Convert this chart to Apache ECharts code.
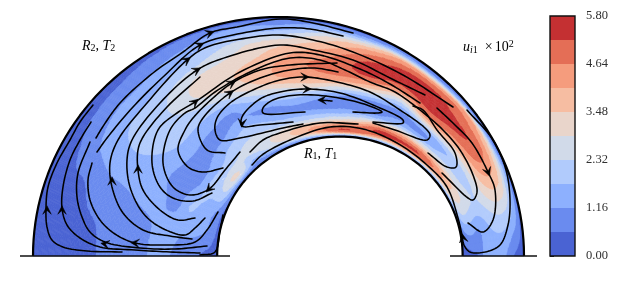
<!DOCTYPE html>
<html><head><meta charset="utf-8">
<style>html,body{margin:0;padding:0;background:#fff}#c{width:619px;height:283px}</style>
<script src="https://cdn.jsdelivr.net/npm/echarts@6/dist/echarts.min.js"></script>
</head><body><div id="c"></div>
<script>
// Filled-contour levels and colours
const levels = [0,0.58,1.16,1.74,2.32,2.9,3.48,4.06,4.64,5.22,5.8];
const bandColors = ['#4a63d3','#6a8bef','#8db0fe','#b1cbfc','#d1dae9','#e9d5cb','#f6bda2','#f59c7d','#e46e56','#c43032'];
const tickValues = [0,1.16,2.32,3.48,4.64,5.8];
// Field sampled on (angle, fraction of gap) between the inner and the outer wall
const angleDeg = [0,10,20,30,40,50,60,70,80,90,100,110,120,130,140,150,160,170,180];
const gapFrac = [0,.05,.1,.15,.2,.25,.3,.35,.4,.5,.6,.7,.8,.85,.9,.95,1];
const field = [
[.3,.35,.4,.45,.5,.55,.9,1.2,1.3,1.4,1.35,1.2,.8,.55,.45,.35,.3],
[.4,.9,1.2,1.3,1.3,1.2,1.15,1.3,1.5,1.8,2.0,2.05,1.9,1.7,1.4,1.0,.35],
[.5,1.9,2.5,2.6,2.5,2.4,2.3,2.3,2.35,2.8,3.3,3.6,3.5,3.1,2.3,1.5,.35],
[.5,2.9,3.4,3.4,2.8,2.4,2.2,2.0,2.3,3.4,4.5,4.9,4.6,4.0,3.3,1.6,.35],
[.5,3.3,4.4,3.9,3.0,2.3,1.9,1.7,2.2,3.8,5.0,5.4,4.9,4.7,4.2,1.8,.4],
[.5,3.9,5.2,4.4,3.0,1.9,1.1,1.2,2.0,4.3,5.3,5.6,5.4,4.9,3.8,1.4,.4],
[.6,3.9,5.3,4.5,3.2,1.9,1.2,1.0,1.2,2.6,4.6,5.5,5.3,4.7,3.9,1.7,.4],
[.6,4.0,5.4,4.4,2.5,1.2,.9,.9,1.6,3.7,5.3,5.4,4.6,3.9,2.7,1.2,.4],
[.6,4.8,4.7,3.2,1.9,1.1,.7,1.0,2.0,4.3,4.9,4.6,3.7,3.2,2.2,1.3,.4],
[.5,5.0,4.2,2.7,1.6,1.0,1.0,1.6,2.7,4.2,4.6,4.1,3.2,2.5,1.6,1.0,.4],
[.5,3.9,3.9,2.4,1.6,1.0,1.3,1.9,2.5,3.9,4.0,3.5,3.0,2.3,1.6,1.1,.4],
[.5,3.0,3.4,2.4,1.8,1.3,1.0,1.5,2.0,3.2,3.5,3.1,2.4,2.0,1.4,1.0,.4],
[.5,2.4,2.8,2.5,2.2,1.8,1.3,1.1,1.3,2.4,3.2,2.85,1.9,1.45,1.15,.8,.4],
[.5,1.6,2.4,2.3,1.9,1.3,1.0,1.1,1.5,2.1,2.4,2.2,1.5,1.2,1.0,.6,.35],
[.5,3.0,2.4,1.8,1.3,1.05,1.05,1.25,1.6,2.0,2.1,1.9,1.4,1.15,.9,.5,.3],
[.5,2.2,1.95,1.8,1.15,.95,1.0,1.1,1.25,1.5,1.6,1.45,1.15,.9,.6,.45,.3],
[.4,1.1,1.45,1.7,1.75,1.15,1.1,1.2,1.25,1.2,1.05,.9,.55,.5,.45,.35,.3],
[.3,1.0,1.2,1.3,1.25,1.3,1.3,1.2,1.1,.95,.75,.55,.45,.4,.35,.3,.25],
[.2,.4,.55,.7,.9,1.12,1.3,1.25,1.1,.9,.7,.5,.4,.35,.3,.25,.2]
];
// Streamlines in plot units [x, y]
const streamlines = [
[[-157,4],[-192,5],[-216,9],[-227,16],[-232,29],[-233,48],[-231,69],[-222,93],[-209,116],[-199,134],[-186,151]],
[[-79,3],[-109,4],[-144,6],[-179,9],[-199,18],[-212,31],[-217,48],[-216,69],[-209,96],[-199,116],[-188,134]],
[[-72,10],[-104,7],[-139,8],[-174,14],[-189,24],[-197,39],[-202,59],[-201,83],[-189,114]],
[[-183,118],[-177,128],[-159,153],[-126,183],[-96,204],[-69,223],[-42,229],[1,237],[34,233],[74,223]],
[[-61,44],[-72,26],[-84,14],[-114,11],[-144,13],[-164,22],[-179,36],[-189,56],[-191,76],[-187,93]],
[[-182,104],[-172,118],[-146,149],[-116,179],[-79,211],[-46,221],[0,228],[31,227],[64,220]],
[[-87,17],[-109,20],[-136,26],[-156,43],[-167,69],[-169,93],[-161,116],[-132,153],[-92,196],[-72,209],[-32,218],[0,221],[34,216],[74,204],[124,181],[174,149]],
[[-74,38],[-84,28],[-94,21],[-119,29],[-136,43],[-149,69],[-152,96],[-147,116],[-119,153],[-82,186],[-52,199],[1,211],[34,206],[74,196],[111,178],[146,161]],
[[-84,38],[-101,36],[-119,46],[-136,66],[-141,86],[-141,106],[-136,119],[-112,149],[-79,179]],
[[-67,63],[-86,55],[-106,58],[-119,69],[-127,93],[-121,126],[-102,143],[-84,154],[-39,184],[11,203],[41,201],[81,187],[111,172],[141,153]],
[[163,83],[189,58],[194,56],[198,64],[194,81],[181,106],[164,126],[141,146],[116,164],[91,174],[66,186],[41,196],[11,198],[-29,184],[-64,164],[-84,148],[-94,143],[-109,126],[-116,93],[-106,69],[-89,61],[-70,67],[-54,86],[-39,104]],
[[-56,88],[-76,84],[-91,89],[-101,106],[-94,126],[-86,138],[-66,158],[-47,173],[-19,186],[11,191],[58,193]],
[[-54,103],[-72,106],[-81,126],[-76,138],[-49,163],[-19,178],[11,186],[36,188],[59,184]],
[[24,132],[4,128],[-39,118],[-59,116],[-64,126],[-62,138],[-49,153],[-26,166],[1,176],[26,179],[58,174],[91,164],[121,146],[146,128],[151,121],[148,116],[116,126],[94,133]],
[[14,134],[-19,131],[-37,130],[-37,139],[-19,157],[1,164],[28,167],[61,163],[94,151],[124,136],[124,133],[94,134]],
[[26,144],[-16,143],[-16,148],[-6,156],[18,161],[54,159],[88,151],[103,144],[99,143],[74,144]],
[[41,156],[53,155]],
[[149,103],[168,89],[177,89],[176,103],[158,126],[144,146],[134,150]],
[[189,33],[204,24],[214,36],[216,66],[209,84],[193,113],[176,131],[158,148]],
[[188,146],[214,116],[227,86],[231,56],[229,31],[221,11],[206,4],[191,4],[185,11],[183,21],[179,38],[168,69],[148,91],[118,113],[84,127],[51,129],[11,116],[-17,101],[-27,91]],
[[-56,41],[-59,26],[-64,4],[-79,1]],
[[-29,104],[-16,116],[4,124],[41,133],[79,132]]
];
// Arrowheads [x, y, direction in degrees]
const arrowHeads = [
[-69,223,20],[-79,211,25],[-92,196,35],[-82,186,30],[-84,154,40],[-47,173,30],[-49,163,35],[26,179,0],[28,167,0],[43,156,180],
[209,84,-70],[184,18,100],[-37,133,-95],[-70,67,-135],[-141,87,90],[-167,75,90],[-232,46,90],[-217,46,90],[-174,12,170],[-144,13,175]
];
const baselines = [[[-259,0],[-49,0]],[[171,0],[258,0]]];

// Wall geometry in plot units
const outerWall = {cx:-0.5, rx:245.5, ry:239};
const innerWall = {cx:60.9, rx:122.75, ry:119.5};
function wallPt(w,t){const a=t*Math.PI/180;return [w.cx+w.rx*Math.cos(a), w.ry*Math.sin(a)];}
function gapPt(t,s){const p=wallPt(innerWall,t),q=wallPt(outerWall,t);return [p[0]+(q[0]-p[0])*s,p[1]+(q[1]-p[1])*s];}
function wallLine(w){const out=[];for(let t=0;t<=180;t+=2)out.push(wallPt(w,t));return out;}

function clip(poly,lim,keepAbove){
  const out=[];
  for(let i=0;i<poly.length;i++){
    const a=poly[i],b=poly[(i+1)%poly.length];
    const ia=keepAbove?a[2]>=lim:a[2]<=lim, ib=keepAbove?b[2]>=lim:b[2]<=lim;
    if(ia)out.push(a);
    if(ia!==ib){const k=(lim-a[2])/(b[2]-a[2]);out.push([a[0]+(b[0]-a[0])*k,a[1]+(b[1]-a[1])*k,lim]);}
  }
  return out;
}
// contour surface: cubic blend of the sampled field
function cub(a,b,c,d,t){return b+.5*t*(c-a+t*(2*a-5*b+4*c-d+t*(3*(b-c)+d-a)));}
const cl=(v,n)=>Math.max(0,Math.min(n,v));
function surf(i,j,u,v){
  const row=k=>{const r=field[cl(i+k,angleDeg.length-1)];
    return cub(r[cl(j-1,gapFrac.length-1)],r[j],r[j+1],r[cl(j+2,gapFrac.length-1)],v);};
  return Math.max(0.01,Math.min(5.79,cub(row(-1),row(0),row(1),row(2),u)));
}
const cells=[];
for(let i=0;i<angleDeg.length-1;i++)for(let j=0;j<gapFrac.length-1;j++){
  const c=gapPt(angleDeg[i]+5,(gapFrac[j]+gapFrac[j+1])/2);cells.push([c[0],c[1],i,j]);
}
function renderCell(params,api){
  const i=api.value(2),j=api.value(3),t0=angleDeg[i],t1=angleDeg[i+1],s0=gapFrac[j],s1=gapFrac[j+1];
  const children=[],N=4;
  for(let m=0;m<N;m++)for(let n=0;n<N;n++){
    const u0=m/N,u1=(m+1)/N,v0=n/N,v1=(n+1)/N;
    const P=(u,v)=>[t0+(t1-t0)*u,s0+(s1-s0)*v,surf(i,j,u,v)];
    const A=P(u0,v0),B=P(u1,v0),C=P(u1,v1),D=P(u0,v1);
    [[A,B,C],[A,C,D]].forEach(tri=>{
      for(let b=0;b<bandColors.length;b++){
        const hi=Math.max(tri[0][2],tri[1][2],tri[2][2]),lo=Math.min(tri[0][2],tri[1][2],tri[2][2]);
        if(hi<levels[b]||lo>levels[b+1])continue;
        let p=clip(tri,levels[b],true);if(p.length<3)continue;
        p=clip(p,levels[b+1],false);if(p.length<3)continue;
        children.push({type:'polygon',shape:{points:p.map(q=>api.coord(gapPt(q[0],q[1])))},
          style:{fill:bandColors[b],stroke:bandColors[b],lineWidth:.6}});
      }
    });
  }
  return {type:'group',children};
}
// streamline drawn as a centripetal spline through its read points
function renderStream(params,api){
  const pts=streamlines[api.value(2)].map(p=>api.coord(p));
  const out=[];
  const P=k=>pts[cl(k,pts.length-1)];
  for(let k=0;k<pts.length-1;k++){
    const p0=P(k-1),p1=P(k),p2=P(k+1),p3=P(k+2);
    const d=(a,b)=>Math.max(1e-3,Math.pow(Math.hypot(a[0]-b[0],a[1]-b[1]),.5));
    const d1=d(p0,p1),d2=d(p1,p2),d3=d(p2,p3);
    for(let q=0;q<10;q++){
      const w=q/10,pt=[0,1].map(c=>{
        const m1=k===0?(p2[c]-p1[c]):d2*((p1[c]-p0[c])/d1-(p2[c]-p0[c])/(d1+d2)+(p2[c]-p1[c])/d2);
        const m2=k+2>=pts.length?(p2[c]-p1[c]):d2*((p2[c]-p1[c])/d2-(p3[c]-p1[c])/(d2+d3)+(p3[c]-p2[c])/d3);
        const w2=w*w,w3=w2*w;
        return (2*w3-3*w2+1)*p1[c]+(w3-2*w2+w)*m1+(-2*w3+3*w2)*p2[c]+(w3-w2)*m2;
      });
      out.push(pt);
    }
  }
  out.push(pts[pts.length-1]);
  return {type:'polyline',shape:{points:out},style:{fill:null,stroke:'#000',lineWidth:1.55,lineJoin:'round',lineCap:'round'}};
}
const lineBase={type:'line',xAxisIndex:0,yAxisIndex:0,showSymbol:false,symbol:'none',silent:true,animation:false,clip:false};
const series=[
 {type:'custom',xAxisIndex:0,yAxisIndex:0,coordinateSystem:'cartesian2d',data:cells,renderItem:renderCell,clip:false,silent:true,z:1,animation:false,encode:{x:0,y:1}},
 {type:'custom',xAxisIndex:0,yAxisIndex:0,coordinateSystem:'cartesian2d',data:streamlines.map((l,i)=>[l[0][0],l[0][1],i]),renderItem:renderStream,clip:false,silent:true,z:3,animation:false,encode:{x:0,y:1}}
];
series.push({type:'scatter',xAxisIndex:0,yAxisIndex:0,data:arrowHeads,symbol:'path://M0,10 L5,0 L10,10 L5,5.5 Z',symbolSize:8.5,
  symbolRotate:(v)=>v[2]-90,itemStyle:{color:'#000',borderColor:'#000',borderWidth:.5,opacity:1},z:4,silent:true,animation:false,clip:false});
[wallLine(outerWall),wallLine(innerWall)].forEach(d=>series.push(Object.assign({},lineBase,{data:d,z:5,lineStyle:{color:'#000',width:2.2}})));
baselines.forEach(d=>series.push(Object.assign({},lineBase,{data:d,z:5,lineStyle:{color:'#111',width:1.7}})));
// Colour bar
series.push({type:'custom',xAxisIndex:1,yAxisIndex:1,coordinateSystem:'cartesian2d',silent:true,z:2,animation:false,clip:false,
  data:bandColors.map((c,i)=>[0,levels[i],levels[i+1],i]),encode:{x:0,y:1},
  renderItem:(p,api)=>{const a=api.coord([0,api.value(1)]),b=api.coord([1,api.value(2)]);
    return {type:'rect',shape:{x:a[0],y:b[1],width:b[0]-a[0],height:a[1]-b[1]},style:{fill:bandColors[api.value(3)]}};}});

const font='"Liberation Serif","DejaVu Serif",serif';
const ink='#303030';
const rich={i:{fontFamily:font,fontStyle:'italic',fontSize:14,color:ink},
  n:{fontFamily:font,fontSize:14,color:ink},
  x:{fontFamily:font,fontSize:14,color:ink,padding:[0,2,0,7]},
  s:{fontFamily:font,fontStyle:'italic',fontSize:10,color:ink,verticalAlign:'bottom',padding:[5,0,0,0]},
  u:{fontFamily:font,fontSize:10,color:ink,verticalAlign:'bottom',padding:[5,0,0,0]},
  p:{fontFamily:font,fontSize:10,color:ink,padding:[0,0,6,0]}};
const chart=echarts.init(document.getElementById('c'),null,{renderer:'canvas'});
chart.setOption({
  animation:false,backgroundColor:'#fff',
  grid:[{left:0,top:0,width:619,height:276,show:false},
        {left:550,top:16,width:25,height:240,show:true,borderColor:'#111',borderWidth:1.4,backgroundColor:'transparent',z:3}],
  xAxis:[{type:'value',gridIndex:0,min:-279,max:340,show:false},
         {type:'value',gridIndex:1,min:0,max:1,show:false}],
  yAxis:[{type:'value',gridIndex:0,min:-20,max:256,show:false},
         {type:'value',gridIndex:1,min:0,max:5.8,interval:1.16,position:'right',
          axisLine:{show:false},splitLine:{show:false},
          axisTick:{show:true,length:4,lineStyle:{color:'#222',width:1}},
          axisLabel:{margin:11,fontFamily:font,fontSize:12.5,color:ink,formatter:v=>v.toFixed(2)}}],
  series,
  graphic:[
    {type:'text',left:82,top:39,silent:true,style:{text:'{i|R}{u|2}{n|, }{i|T}{u|2}',rich}},
    {type:'text',left:304,top:147,silent:true,style:{text:'{i|R}{u|1}{n|, }{i|T}{u|1}',rich}},
    {type:'text',left:463,top:39,silent:true,style:{text:'{i|u}{s|i}{u|1}{x|×}{n|10}{p|2}',rich}}
  ]
});
</script></body></html>
